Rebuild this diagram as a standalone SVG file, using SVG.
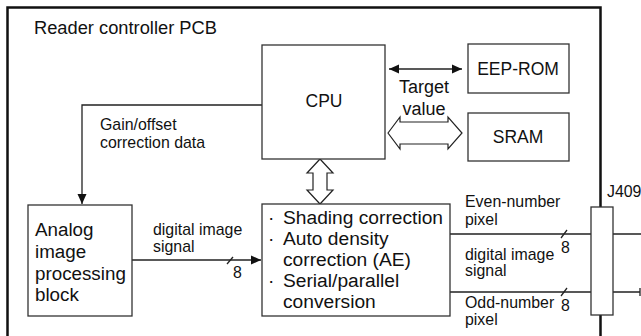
<svg xmlns="http://www.w3.org/2000/svg" width="641" height="336" viewBox="0 0 641 336">
<defs>
<style>
text{font-family:"Liberation Sans",Arial,sans-serif;fill:#111}
.box{fill:#fff;stroke:#333;stroke-width:1.3}
.ln{fill:none;stroke:#222;stroke-width:1.3}
.cap{font-size:17.5px}
.big{font-size:18.8px}
.sm{font-size:15.9px}
</style>
<marker id="ah" viewBox="0 0 10 10" refX="10" refY="5" markerWidth="10" markerHeight="10" markerUnits="userSpaceOnUse" orient="auto-start-reverse">
<path d="M0,0.5 L10,5 L0,9.5 Z" fill="#111"/>
</marker>
</defs>
<rect width="641" height="336" fill="#fff"/>
<g id="frame">
<path d="M7.5,340 V7.5 H600.5 V207 M600.5,315 V340" fill="none" stroke="#111" stroke-width="2.5"/>
<text x="34" y="34" font-size="18.3">Reader controller PCB</text>
</g>
<g id="connectors">
<path class="ln" d="M262,105 H82 V204" marker-end="url(#ah)"/>
<path class="ln" d="M389,69 H462" marker-start="url(#ah)" marker-end="url(#ah)"/>
<path d="M388,133 L400,117 V122 H448 V117 L462,133 L448,149 V144 H400 V149 Z" fill="#fff" stroke="#222" stroke-width="1.2"/>
<path d="M320,159 L333,173 H327 V190 H333 L320,204 L307,190 H313 V173 H307 Z" fill="#fff" stroke="#222" stroke-width="1.2"/>
<path class="ln" d="M132,260 H261" marker-end="url(#ah)"/>
<path class="ln" d="M227,264 L233,257"/>
<path class="ln" d="M450,234 H591 M613,234 H641"/>
<path class="ln" d="M561,238 L567,230"/>
<path class="ln" d="M450,292 H591 M613,292 H640 M640,288 V296"/>
<path class="ln" d="M561,296 L567,288"/>
<text x="100" y="130" class="sm">Gain/offset</text>
<text x="100" y="148" class="sm">correction data</text>
<text x="424" y="93" font-size="18" text-anchor="middle">Target</text>
<text x="424" y="115" font-size="18" text-anchor="middle">value</text>
<text x="153" y="235" class="sm">digital image</text>
<text x="153" y="252" class="sm">signal</text>
<text x="233" y="278" class="sm">8</text>
<text x="465" y="207" class="sm">Even-number</text>
<text x="465" y="225" class="sm">pixel</text>
<text x="465" y="260" class="sm">digital image</text>
<text x="465" y="276" class="sm">signal</text>
<text x="465" y="308" class="sm">Odd-number</text>
<text x="465" y="325" class="sm">pixel</text>
<text x="561" y="253" class="sm">8</text>
<text x="561" y="311" class="sm">8</text>
</g>
<g id="cpu">
<rect class="box" x="262" y="45" width="123" height="114"/>
<text x="324" y="107" class="cap" text-anchor="middle">CPU</text>
</g>
<g id="eeprom">
<rect class="box" x="468" y="44" width="101" height="49"/>
<text x="518" y="75" class="cap" text-anchor="middle">EEP-ROM</text>
</g>
<g id="sram">
<rect class="box" x="468" y="113" width="101" height="48"/>
<text x="518" y="143" class="cap" text-anchor="middle">SRAM</text>
</g>
<g id="analog">
<rect class="box" x="28" y="205" width="104" height="111"/>
<text x="35" y="236" class="big">Analog</text>
<text x="35" y="258" class="big">image</text>
<text x="35" y="280" class="big">processing</text>
<text x="35" y="301" class="big">block</text>
</g>
<g id="processor">
<rect class="box" x="262" y="204" width="188" height="112"/>
<text font-size="19.2">
<tspan x="268" y="224">·</tspan><tspan x="283" y="224">Shading correction</tspan>
<tspan x="268" y="245">·</tspan><tspan x="283" y="245">Auto density</tspan>
<tspan x="283" y="266">correction (AE)</tspan>
<tspan x="268" y="287">·</tspan><tspan x="283" y="287">Serial/parallel</tspan>
<tspan x="283" y="308">conversion</tspan>
</text>
</g>
<g id="j409">
<rect class="box" x="591" y="207" width="22" height="108"/>
<text x="607" y="197" class="sm">J409</text>
</g>
</svg>
